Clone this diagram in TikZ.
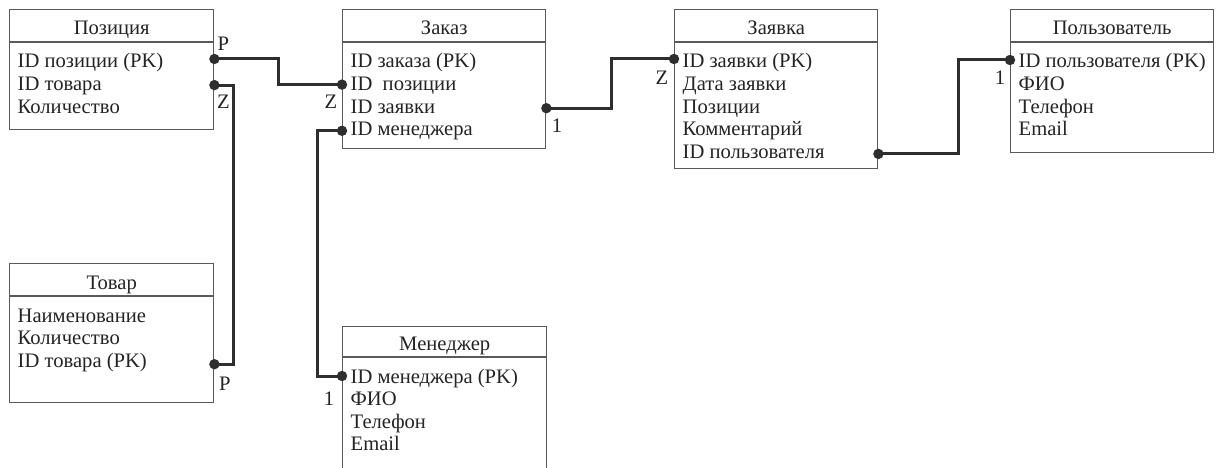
\documentclass[tikz,border=0pt]{standalone}
\usepackage{fontspec}
\setmainfont{Liberation Serif}
\usetikzlibrary{calc}
\definecolor{ink}{HTML}{242424}
\definecolor{rulecol}{HTML}{5A5A5A}
\definecolor{wirecol}{HTML}{2E2E2E}

\tikzset{
  tblfont/.style={font=\fontsize{20.6}{24}\selectfont},
  tblframe/.style={draw=rulecol, line width=1.4pt, fill=white, inner sep=0pt, anchor=north west},
  tblline/.style={draw=rulecol, line width=1.4pt},
  tbltitle/.style={tblfont, text=ink, inner sep=0pt, anchor=base},
  tblrow/.style={tblfont, text=ink, inner sep=0pt, anchor=base west},
  wire/.style={draw=wirecol, line width=3pt},
  card/.style={tblfont, text=ink, inner sep=0pt},
}

% entity box: #1 name, #2 left, #3 top, #4 width, #5 height, #6 header height, #7 title, #8 rows
\newcommand\ertable[8]{%
  \node[tblframe, minimum width=#4pt, minimum height=#5pt] (#1) at (#2,#3) {};
  \draw[tblline] ([yshift=-#6pt]#1.north west) -- ([yshift=-#6pt]#1.north east);
  \node[tbltitle] (#1-title) at ([yshift={-(#6-7)*1pt}]#1.north) {#7};
  \foreach \txt [count=\i] in {#8}
    \node[tblrow] (#1-r\i) at ([xshift=8.5pt, yshift={-(#6+26+22.6*(\i-1))*1pt}]#1.north west) {\txt};
}

% connection point on a box edge, level with a row
\newcommand\joint[3]{%
  \coordinate (#1) at ($(#2)+(0,#3)$);
}

\begin{document}
\begin{tikzpicture}[x=1pt,y=-1pt]
  \useasboundingbox (0,0) rectangle (1220,468);
  \fill[white] (0,0) rectangle (1220,468);

  \begin{scope}
    \clip (0,0) rectangle (1220,468);
    \ertable{pz}{9}{9}{204}{120}{33}{Позиция}{ID позиции (PK), ID товара, Количество}
    \ertable{zk}{342}{9}{203}{139}{33}{Заказ}{ID заказа (PK), ID~~позиции, ID заявки, ID менеджера}
    \ertable{zv}{674}{9}{203}{159}{33}{Заявка}{ID заявки (PK), Дата заявки, Позиции, Комментарий, ID пользователя}
    \ertable{pl}{1010}{9}{203}{143}{33}{Пользователь}{ID пользователя (PK), ФИО, Телефон, Email}
    \ertable{tv}{9}{263}{204}{139}{33}{Товар}{Наименование, Количество, ID товара (PK)}
    \ertable{mn}{342}{326}{204}{160}{31}{Менеджер}{ID менеджера (PK), ФИО, Телефон, Email}
  \end{scope}

  % connection points
  \joint{pz-d1}{pz.east |- pz-r1.base}{-9}
  \joint{pz-d2}{pz.east |- pz-r2.base}{-5.5}
  \joint{zk-d2}{zk.west |- zk-r2.base}{-6}
  \joint{zk-d3}{zk.east |- zk-r3.base}{-5}
  \joint{zk-d4}{zk.west |- zk-r4.base}{-5}
  \joint{zv-d1}{zv.west |- zv-r1.base}{-9}
  \joint{zv-d5}{zv.east |- zv-r5.base}{-4.5}
  \joint{pl-d1}{pl.west |- pl-r1.base}{-8}
  \joint{tv-d3}{tv.east |- tv-r3.base}{-3}
  \joint{mn-d1}{mn.west |- mn-r1.base}{-7}

  % relationships
  \draw[wire] (pz-d1) -- ++(64,0) |- (zk-d2);
  \draw[wire] (pz-d2) -- ++(19,0) |- (tv-d3);
  \draw[wire] (zk-d4) -- ++(-25,0) |- (mn-d1);
  \draw[wire] (zk-d3) -- ++(65,0) |- (zv-d1);
  \draw[wire] (zv-d5) -- ++(80,0) |- (pl-d1);

  \foreach \p in {pz-d1,pz-d2,zk-d2,zk-d3,zk-d4,zv-d1,zv-d5,pl-d1,tv-d3,mn-d1}
    \fill[wirecol] (\p) circle (5.2pt);

  % cardinalities
  \node[card] (c1) at ($(pz-d1)+(9,-15.5)$) {P};
  \node[card] (c2) at ($(pz-d2)+(9,17)$) {Z};
  \node[card] (c3) at ($(zk-d2)+(-11,17)$) {Z};
  \node[card] (c4) at ($(zk-d3)+(10.5,18)$) {1};
  \node[card] (c5) at ($(zv-d1)+(-12,18.5)$) {Z};
  \node[card] (c6) at ($(pl-d1)+(-10,17.5)$) {1};
  \node[card] (c7) at ($(tv-d3)+(10.5,20)$) {P};
  \node[card] (c8) at ($(mn-d1)+(-13,23)$) {1};
\end{tikzpicture}
\end{document}
